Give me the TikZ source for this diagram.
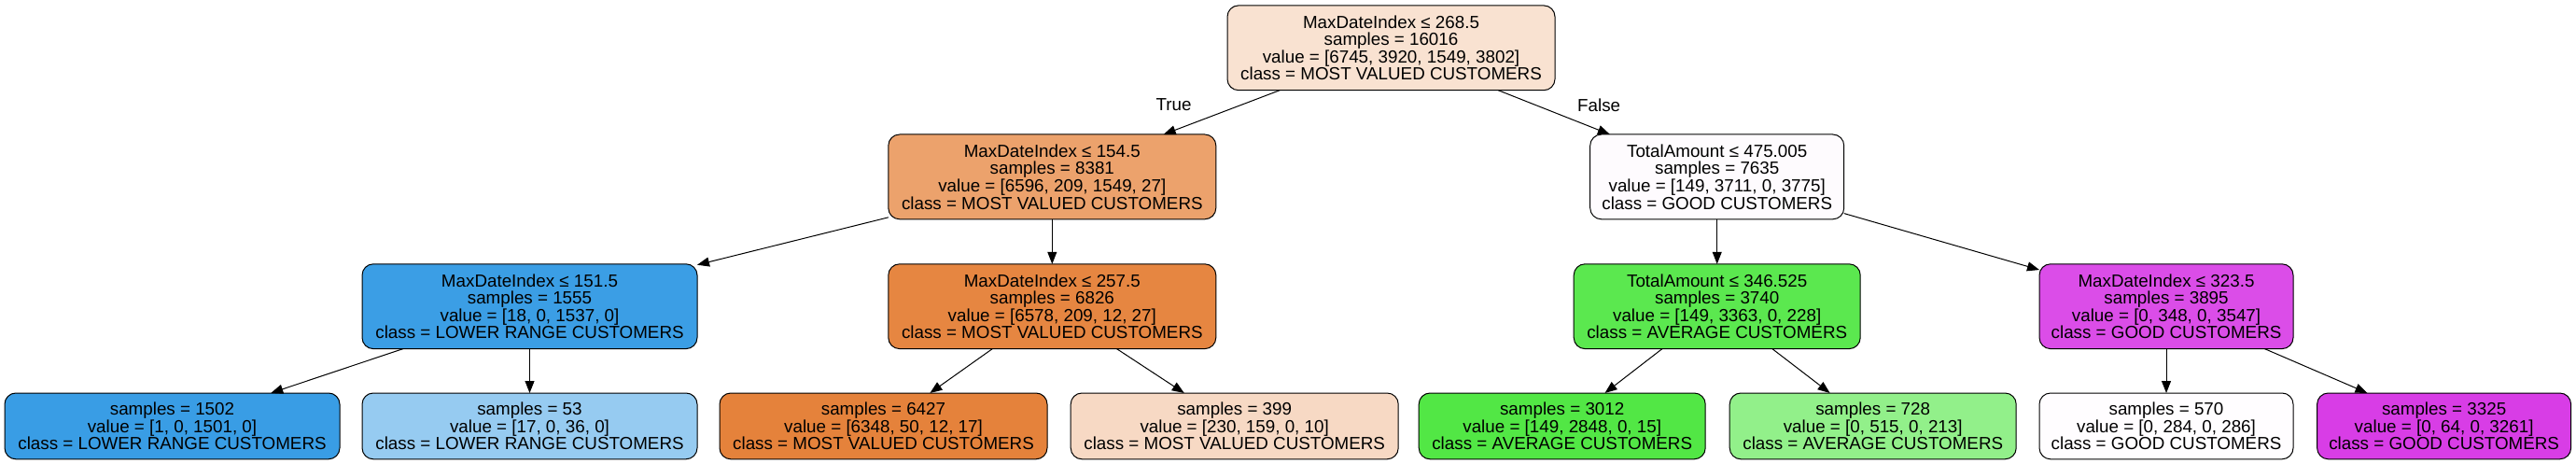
\documentclass[tikz,border=0pt]{standalone}
\usepackage{fontspec}
\setmainfont{Liberation Sans}
\usepackage{tikz}
\usetikzlibrary{positioning, arrows.meta}
\usepackage{xcolor}

\definecolor{mostval}{HTML}{E58139}
\definecolor{average}{HTML}{47E539}
\definecolor{lowrange}{HTML}{399DE5}
\definecolor{goodcust}{HTML}{D739E5}

\begin{document}
\begin{tikzpicture}[
                node distance=24pt,
                box/.style={rectangle, draw=black, line width=0.5pt, rounded corners=6pt, align=center, inner xsep=3pt, inner ysep=0pt, outer sep=0pt, font=\fontsize{9.4}{9.3}\selectfont},
                split/.style={box, minimum height=45.4pt},
                leaf/.style={box, minimum height=35.4pt},
                mvc/.style={minimum width=175.5pt},
                lrc/.style={minimum width=179.5pt},
                avc/.style={minimum width=153.5pt},
                gdc/.style={minimum width=136pt},
                lbl/.style={inner sep=0pt, font=\fontsize{9.4}{9.3}\selectfont},
                arrow/.style={-{Triangle[length=6.5pt, width=5pt]}, line width=0.5pt, black}
            ]
            \useasboundingbox (0,0) rectangle (1380pt,-248.5pt);

            % leaves, left to right
            \node[leaf, lrc, fill=lowrange, anchor=south west] (l1502) at (2.5pt,-245.9pt) {samples = 1502\\value = [1, 0, 1501, 0]\\class = LOWER RANGE CUSTOMERS};
            \node[leaf, lrc, fill=lowrange!53!white, right=12pt of l1502] (l53) {samples = 53\\value = [17, 0, 36, 0]\\class = LOWER RANGE CUSTOMERS};
            \node[leaf, mvc, fill=mostval!99!white, right=12pt of l53] (l6427) {samples = 6427\\value = [6348, 50, 12, 17]\\class = MOST VALUED CUSTOMERS};
            \node[leaf, mvc, fill=mostval!30!white, right=12.6pt of l6427] (l399) {samples = 399\\value = [230, 159, 0, 10]\\class = MOST VALUED CUSTOMERS};
            \node[leaf, avc, fill=average!94!white, right=11pt of l399] (l3012) {samples = 3012\\value = [149, 2848, 0, 15]\\class = AVERAGE CUSTOMERS};
            \node[leaf, avc, fill=average!59!white, right=13pt of l3012] (l728) {samples = 728\\value = [0, 515, 0, 213]\\class = AVERAGE CUSTOMERS};
            \node[leaf, gdc, fill=goodcust!1!white, right=12.4pt of l728] (l570) {samples = 570\\value = [0, 284, 0, 286]\\class = GOOD CUSTOMERS};
            \node[leaf, gdc, fill=goodcust!98!white, right=12.8pt of l570] (l3325) {samples = 3325\\value = [0, 64, 0, 3261]\\class = GOOD CUSTOMERS};

            % second level
            \node[split, lrc, fill=lowrange!99!white, above=23.7pt of l53] (n151) {MaxDateIndex ≤ 151.5\\samples = 1555\\value = [18, 0, 1537, 0]\\class = LOWER RANGE CUSTOMERS};
            \node[split, mvc, fill=mostval!96!white, above=23.7pt of l6427, xshift=90.4pt] (n257) {MaxDateIndex ≤ 257.5\\samples = 6826\\value = [6578, 209, 12, 27]\\class = MOST VALUED CUSTOMERS};
            \node[split, avc, fill=average!89!white, above=23.7pt of l3012, xshift=83pt] (n346) {TotalAmount ≤ 346.525\\samples = 3740\\value = [149, 3363, 0, 228]\\class = AVERAGE CUSTOMERS};
            \node[split, gdc, fill=goodcust!90!white, above=23.7pt of l570] (n323) {MaxDateIndex ≤ 323.5\\samples = 3895\\value = [0, 348, 0, 3547]\\class = GOOD CUSTOMERS};

            % first level and root
            \node[split, mvc, fill=mostval!74!white, above=of n257] (n154) {MaxDateIndex ≤ 154.5\\samples = 8381\\value = [6596, 209, 1549, 27]\\class = MOST VALUED CUSTOMERS};
            \node[split, gdc, fill=goodcust!2!white, above=of n346] (n475) {TotalAmount ≤ 475.005\\samples = 7635\\value = [149, 3711, 0, 3775]\\class = GOOD CUSTOMERS};
            \node[split, mvc, fill=mostval!23!white, above=23.65pt of n154, xshift=181.6pt] (root) {MaxDateIndex ≤ 268.5\\samples = 16016\\value = [6745, 3920, 1549, 3802]\\class = MOST VALUED CUSTOMERS};

            \node[lbl] (true) at ([shift={(-116.5pt,-30.5pt)}]root.center) {True};
            \node[lbl] (false) at ([shift={(111.3pt,-30.5pt)}]root.center) {False};

            \draw[arrow] (root) -- (n154);
            \draw[arrow] (root) -- (n475);
            \draw[arrow] (n154) -- (n151);
            \draw[arrow] (n154) -- (n257);
            \draw[arrow] (n475) -- (n346);
            \draw[arrow] (n475) -- (n323);
            \draw[arrow] (n151) -- (l1502);
            \draw[arrow] (n151) -- (l53);
            \draw[arrow] (n257) -- (l6427);
            \draw[arrow] (n257) -- (l399);
            \draw[arrow] (n346) -- (l3012);
            \draw[arrow] (n346) -- (l728);
            \draw[arrow] (n323) -- (l570);
            \draw[arrow] (n323) -- (l3325);
        \end{tikzpicture}
\end{document}
